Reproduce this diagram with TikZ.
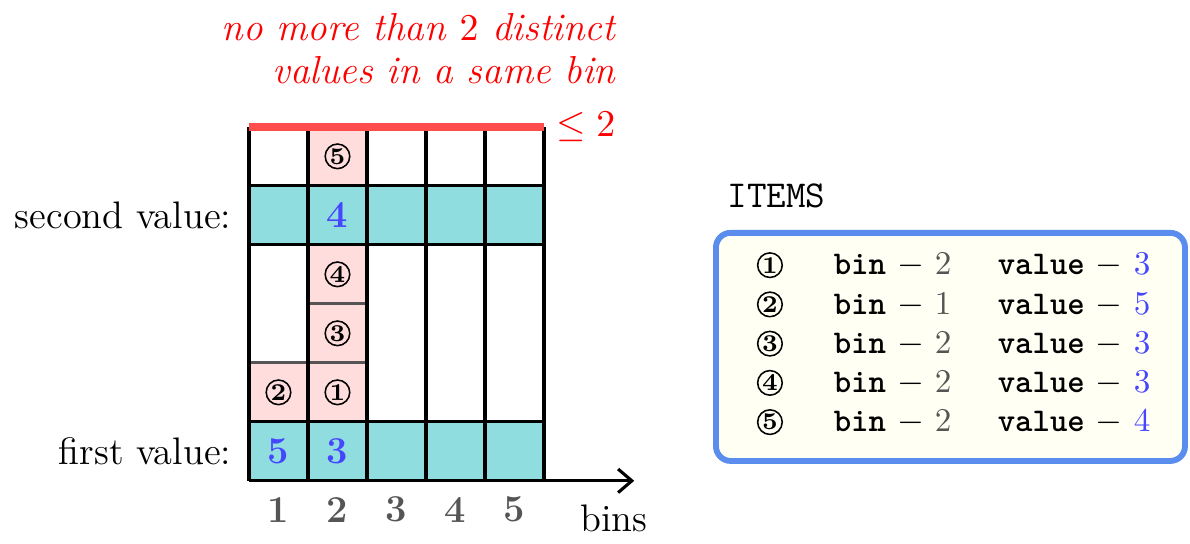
\documentclass[tikz,border=0pt]{standalone}
\usetikzlibrary{arrows.meta}
\definecolor{cellteal}{RGB}{143,221,223}
\definecolor{cellpink}{RGB}{255,221,221}
\definecolor{valblue}{RGB}{70,70,255}
\definecolor{bingray}{RGB}{85,85,85}
\definecolor{capred}{RGB}{255,77,77}
\definecolor{boxblue}{RGB}{91,141,239}
\definecolor{boxfill}{RGB}{255,255,244}

\begin{document}
\begin{tikzpicture}[
  x=0.6cm, y=0.6cm,
  font=\fontsize{11.1}{13.5}\selectfont,
  grid/.style={line width=0.9pt},
  sep/.style={line width=0.9pt, bingray},
  item/.style={circle, draw, line width=0.45pt, inner sep=0pt, minimum size=2.5mm,
    font=\fontsize{7}{7}\selectfont\bfseries},
  val/.style={text=valblue, font=\fontsize{11}{13}\selectfont\bfseries},
  binlab/.style={text=bingray, font=\fontsize{11}{13}\selectfont\bfseries},
  lab/.style={inner sep=0pt},
  row/.style={inner sep=0pt, anchor=west, font=\fontsize{9.6}{11}\selectfont}
]
\useasboundingbox (-4.22,-1.07) rectangle (15.95,8.15);
\fill[cellteal] (0,0) rectangle (5,1);
\fill[cellteal] (0,4) rectangle (5,5);
\fill[cellpink] (1,1) rectangle (2,4);
\fill[cellpink] (0,1) rectangle (1,2);
\fill[cellpink] (1,5) rectangle (2,6);
\draw[sep] (0,2) -- (2,2);
\draw[sep] (1,3) -- (2,3);
\foreach \c in {0,...,5}
  \draw[grid] (\c,0) -- (\c,6);
\foreach \r in {1,4,5}
  \draw[grid] (0,\r) -- (5,\r);
\coordinate (o) at (0,0);
\coordinate (axisend) at (6.53,0);
\draw[grid, -{Straight Barb[length=1.4mm,width=2.4mm]}] (o) -- (axisend);
\draw[capred, line width=2.3pt] (0,6) -- (5,6);

\node[val] (v1) at (0.5,0.5) {5};
\node[val] (v2) at (1.5,0.5) {3};
\node[val] (v3) at (1.5,4.5) {4};
\node[item] (c1) at (1.5,1.5) {1};
\node[item] (c2) at (0.5,1.5) {2};
\node[item] (c3) at (1.5,2.5) {3};
\node[item] (c4) at (1.5,3.5) {4};
\node[item] (c5) at (1.5,5.5) {5};
\foreach \b in {1,...,5}
  \node[binlab] (b\b) at (\b-0.5,-0.49) {\b};
\node[lab] (bins) at (6.19,-0.63) {bins};
\node[lab, anchor=east] (second) at (-0.29,4.5) {second value:};
\node[lab, anchor=east] (first) at (-0.29,0.5) {first value:};
\node[lab, anchor=east, text=red] (cap) at (6.22,6.0) {$\leq 2$};
\node[lab, anchor=east, align=right, text=red,
  font=\fontsize{11.3}{12.4}\selectfont\itshape] (rule) at (6.22,7.33)
  {no more than $2$ distinct\\values in a same bin};

\node[lab, anchor=west, font=\fontsize{11}{13}\selectfont\ttfamily] (items) at (8.1,4.83) {ITEMS};
\node[draw=boxblue, line width=1.7pt, fill=boxfill, rounded corners=1.5mm,
  minimum width=4.77cm, minimum height=2.32cm] (itembox) at (11.89,2.27) {};
\foreach \n/\b/\v [count=\i] in {1/2/3,2/1/5,3/2/3,4/2/3,5/2/4} {
  \node[item] (li\n) at (8.83,4.32-0.665*\i) {\n};
  \node[row] (lb\n) at (9.9,4.32-0.665*\i)
    {\texttt{\textbf{bin}}~$-$~\textcolor{bingray}{\b}};
  \node[row] (lv\n) at (12.68,4.32-0.665*\i)
    {\texttt{\textbf{value}}~$-$~\textcolor{valblue}{\v}};
}
\end{tikzpicture}
\end{document}
